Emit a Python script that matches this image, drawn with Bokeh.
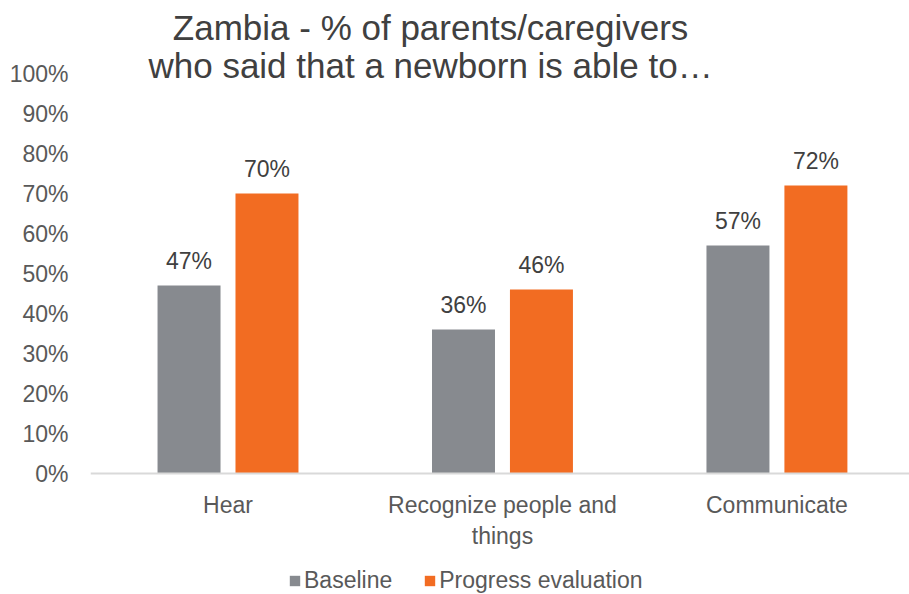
from bokeh.plotting import figure
from bokeh.models import (ColumnDataSource, FixedTicker, LabelSet, Label, Legend,
                          LegendItem, Range1d)
from bokeh.transform import dodge
from bokeh.core.properties import value
from bokeh.embed import file_html
from bokeh.resources import INLINE

# ---- data ----
categories = ["Hear", "Recognize people and\nthings", "Communicate"]
baseline = [47, 36, 57]
progress = [70, 46, 72]
series_names = ["Baseline", "Progress evaluation"]
y_ticks = [0, 10, 20, 30, 40, 50, 60, 70, 80, 90, 100]
title_lines = ["Zambia - % of parents/caregivers", "who said that a newborn is able to\u2026"]

FONT = "Liberation Sans"
GRAY = "#878A8F"
ORANGE = "#F26C22"

xs = list(range(len(categories)))
src = ColumnDataSource(dict(
    x=xs,
    base=baseline,
    prog=progress,
    base_lbl=[f"{v}%" for v in baseline],
    prog_lbl=[f"{v}%" for v in progress],
))

p = figure(width=909, height=594, output_backend="svg", toolbar_location=None,
           x_range=Range1d(-0.501, 2.483), y_range=Range1d(-30.25, 115.25),
           min_border_left=90, min_border_right=0, min_border_top=12,
           min_border_bottom=0)
p.outline_line_color = None
p.xgrid.visible = False
p.ygrid.visible = False

off = 0.142
bw = 0.2295
r1 = p.vbar(x=dodge("x", -off, range=p.x_range), top="base", width=bw, bottom=0,
            source=src, fill_color=GRAY, line_color=None)
r2 = p.vbar(x=dodge("x", off, range=p.x_range), top="prog", width=bw, bottom=0,
            source=src, fill_color=ORANGE, line_color=None)

for col, lbl, dx in (("base", "base_lbl", -off), ("prog", "prog_lbl", off)):
    ls = LabelSet(x=dodge("x", dx, range=p.x_range), y=col, text=lbl, source=src,
                  y_offset=17, text_align="center", text_baseline="alphabetic",
                  text_font=value(FONT), text_font_size="23px", text_color="#404040")
    p.add_layout(ls)

# axes
p.xaxis.fixed_location = 0
p.xaxis.ticker = FixedTicker(ticks=xs)
p.xaxis.major_label_overrides = {i: c for i, c in zip(xs, categories)}
p.xaxis.major_tick_line_color = None
p.xaxis.minor_tick_line_color = None
p.xaxis.axis_line_color = "#D9D9D9"
p.xaxis.axis_line_width = 2
p.xaxis.major_label_standoff = 12
p.xaxis.major_label_text_font = FONT
p.xaxis.major_label_text_font_size = "23px"
p.xaxis.major_label_text_color = "#595959"

p.yaxis.ticker = FixedTicker(ticks=y_ticks)
p.yaxis.major_label_overrides = {t: f"{t}%" for t in y_ticks}
p.yaxis.axis_line_color = None
p.yaxis.major_tick_line_color = None
p.yaxis.minor_tick_line_color = None
p.yaxis.major_label_standoff = 16
p.yaxis.major_label_text_font = FONT
p.yaxis.major_label_text_font_size = "23px"
p.yaxis.major_label_text_color = "#595959"

# title (two centered lines)
for txt, yv in zip(title_lines, [111.5, 102.0]):
    p.add_layout(Label(x=0.738, y=yv, text=txt, text_align="center",
                       text_baseline="alphabetic", text_font=FONT,
                       text_font_size="35px", text_color="#404040"))

legend = Legend(items=[LegendItem(label=series_names[0], renderers=[r1]),
                       LegendItem(label=series_names[1], renderers=[r2])],
                location=(198, 0), orientation="horizontal",
                glyph_width=13, glyph_height=13, label_standoff=3, spacing=31,
                padding=0, margin=0, border_line_alpha=0, background_fill_alpha=0,
                label_text_font=FONT, label_text_font_size="23px",
                label_text_color="#595959")
p.add_layout(legend)

open("out.html", "w").write(file_html(p, INLINE))
